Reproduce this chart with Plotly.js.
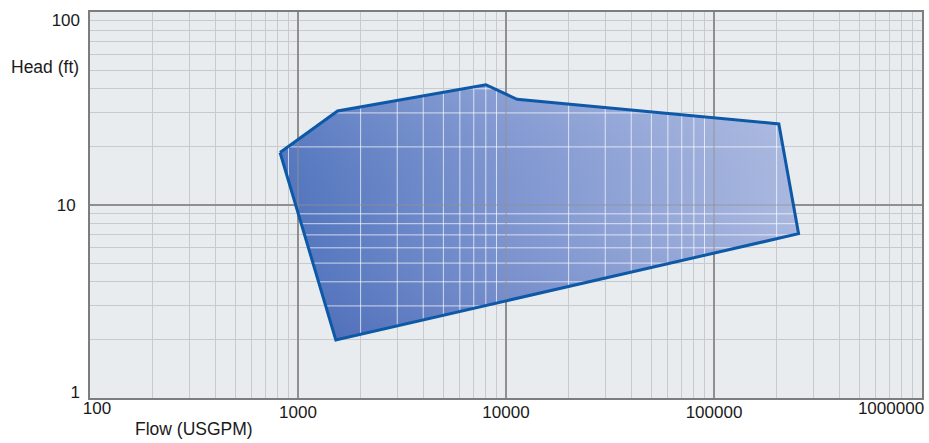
<!DOCTYPE html>
<html>
<head>
<meta charset="utf-8">
<script src="https://cdn.plot.ly/plotly-3.0.1.min.js"></script>
<style>
  html, body { margin: 0; padding: 0; background: #ffffff; }
  #chart { width: 929px; height: 443px; }
</style>
</head>
<body>
<div id="chart"></div>
<script>
// ---- data ----
const flowPts = [820, 1550, 8000, 11300, 205000, 255000, 1520, 820];   // USGPM
const headPts = [18.7, 30.7, 42.0, 35.3, 26.3, 7.1, 2.0, 18.7];        // ft

// tick labels (split so end labels can be nudged inside the frame like the reference)
const xTickMid = [1000, 10000, 100000];
const xTickMidText = ['1000', '10000', '100000'];
const xTickFirst = [100], xTickFirstText = ['100'];
const xTickLast = [1000000], xTickLastText = ['1000000'];
const yTickMid = [10], yTickMidText = ['10'];
const yTickLow = [1], yTickLowText = ['1'];
const yTickTop = [100], yTickTopText = ['100'];

const xDecades = [100, 1000, 10000, 100000];
const yDecades = [1, 10];
const minorSteps = [2, 3, 4, 5, 6, 7, 8, 9];

// ---- derived grid values ----
const xMinor = [], yMinor = [];
xDecades.forEach(d => minorSteps.forEach(k => xMinor.push(k * d)));
yDecades.forEach(d => minorSteps.forEach(k => yMinor.push(k * d)));

// clip grid lines to the polygon (in log space, where edges are straight)
const LX = flowPts.map(Math.log10), LY = headPts.map(Math.log10);
function clipVertical(v) {
  const lv = Math.log10(v), ys = [];
  for (let i = 0; i < LX.length - 1; i++) {
    const x1 = LX[i], x2 = LX[i + 1], y1 = LY[i], y2 = LY[i + 1];
    if ((x1 <= lv && x2 > lv) || (x2 <= lv && x1 > lv)) {
      ys.push(y1 + (lv - x1) * (y2 - y1) / (x2 - x1));
    }
  }
  ys.sort((a, b) => a - b);
  const segs = [];
  for (let i = 0; i + 1 < ys.length; i += 2) segs.push([ys[i], ys[i + 1]]);
  return segs;
}
function clipHorizontal(v) {
  const lv = Math.log10(v), xs = [];
  for (let i = 0; i < LY.length - 1; i++) {
    const x1 = LX[i], x2 = LX[i + 1], y1 = LY[i], y2 = LY[i + 1];
    if ((y1 <= lv && y2 > lv) || (y2 <= lv && y1 > lv)) {
      xs.push(x1 + (lv - y1) * (x2 - x1) / (y2 - y1));
    }
  }
  xs.sort((a, b) => a - b);
  const segs = [];
  for (let i = 0; i + 1 < xs.length; i += 2) segs.push([xs[i], xs[i + 1]]);
  return segs;
}
function gridTrace(xv, yv, color, width) {
  const gx = [], gy = [];
  xv.forEach(v => clipVertical(v).forEach(s => {
    gx.push(v, v, null); gy.push(Math.pow(10, s[0]), Math.pow(10, s[1]), null);
  }));
  yv.forEach(v => clipHorizontal(v).forEach(s => {
    gx.push(Math.pow(10, s[0]), Math.pow(10, s[1]), null); gy.push(v, v, null);
  }));
  return {
    x: gx, y: gy, type: 'scatter', mode: 'lines', hoverinfo: 'skip',
    line: { color: color, width: width }, showlegend: false
  };
}
function dummy(xa, ya) {
  return { x: [], y: [], type: 'scatter', mode: 'markers', xaxis: xa, yaxis: ya,
    hoverinfo: 'skip', showlegend: false };
}

const traces = [
  {
    x: flowPts, y: headPts, type: 'scatter', mode: 'lines',
    fill: 'toself',
    fillgradient: {
      type: 'horizontal',
      colorscale: [[0, '#5174bd'], [0.45, '#7f96d0'], [1, '#abb9e0']]
    },
    line: { color: 'rgba(0,0,0,0)', width: 0 },
    hoverinfo: 'skip', showlegend: false
  },
  {
    x: flowPts, y: headPts, type: 'scatter', mode: 'lines',
    fill: 'toself',
    fillgradient: {
      type: 'vertical',
      colorscale: [[0, 'rgba(20,50,150,0.16)'], [0.5, 'rgba(120,140,200,0)'], [1, 'rgba(255,255,255,0.12)']]
    },
    line: { color: 'rgba(0,0,0,0)', width: 0 },
    hoverinfo: 'skip', showlegend: false
  },
  gridTrace(xMinor, yMinor, 'rgba(255,255,255,0.7)', 1),
  gridTrace([1000, 10000, 100000], [10], 'rgba(150,145,140,0.75)', 1.2),
  {
    x: flowPts, y: headPts, type: 'scatter', mode: 'lines',
    line: { color: '#0d59a7', width: 3 },
    hoverinfo: 'skip', showlegend: false
  },
  dummy('x2', 'y'), dummy('x3', 'y'), dummy('x', 'y2'), dummy('x', 'y3')
];

const font = { family: 'Liberation Sans, Arial, sans-serif', size: 17, color: '#1a1a1a' };

function labelAxis(type, range, vals, text, shift, standoff, overlay, anchor) {
  return {
    type: type, range: range, overlaying: overlay, anchor: anchor,
    tickvals: vals, ticktext: text, ticks: '',
    ticklabelshift: shift, ticklabelstandoff: standoff,
    showgrid: false, showline: false, zeroline: false, tickfont: font
  };
}

const layout = {
  width: 929, height: 443,
  margin: { l: 90, r: 7, t: 12, b: 45 },
  paper_bgcolor: '#ffffff',
  plot_bgcolor: '#e9ecef',
  font: font,
  showlegend: false,
  xaxis: {
    type: 'log', range: [2, 6],
    tickvals: xTickMid, ticktext: xTickMidText,
    ticks: '', ticklabelstandoff: -2,
    showgrid: true, gridcolor: '#8f8f8f', gridwidth: 1.2,
    minor: { tickvals: xMinor, showgrid: true, gridcolor: '#c8cbce', gridwidth: 1, ticks: '' },
    showline: true, linecolor: '#7d7d7d', linewidth: 2, mirror: true,
    zeroline: false, tickfont: font
  },
  xaxis2: labelAxis('log', [2, 6], xTickFirst, xTickFirstText, 7, -2, 'x', 'y'),
  xaxis3: labelAxis('log', [2, 6], xTickLast, xTickLastText, -31, -2, 'x', 'y'),
  yaxis: {
    type: 'log', range: [0, 2],
    tickvals: yTickMid, ticktext: yTickMidText,
    ticks: '', ticklabelstandoff: 9,
    showgrid: true, gridcolor: '#8f8f8f', gridwidth: 1.2,
    minor: { tickvals: yMinor, showgrid: true, gridcolor: '#c8cbce', gridwidth: 1, ticks: '' },
    showline: true, linecolor: '#7d7d7d', linewidth: 2, mirror: true,
    zeroline: false, tickfont: font
  },
  yaxis2: labelAxis('log', [0, 2], yTickLow, yTickLowText, -6, 9, 'y', 'x'),
  yaxis3: labelAxis('log', [0, 2], yTickTop, yTickTopText, 8, 9, 'y', 'x'),
  annotations: [
    {
      text: 'Head (ft)', xref: 'paper', yref: 'paper',
      x: -81 / 832, y: (386 - 55) / 386, xanchor: 'left', yanchor: 'middle',
      showarrow: false, font: { family: font.family, size: 17.5, color: '#1a1a1a' }
    },
    {
      text: 'Flow (USGPM)', xref: 'paper', yref: 'paper',
      x: (133 - 90) / 832, y: -(429 - 398) / 386, xanchor: 'left', yanchor: 'middle',
      showarrow: false, font: { family: font.family, size: 17.5, color: '#1a1a1a' }
    }
  ]
};

Plotly.newPlot('chart', traces, layout, { staticPlot: true, displayModeBar: false });
</script>
</body>
</html>
